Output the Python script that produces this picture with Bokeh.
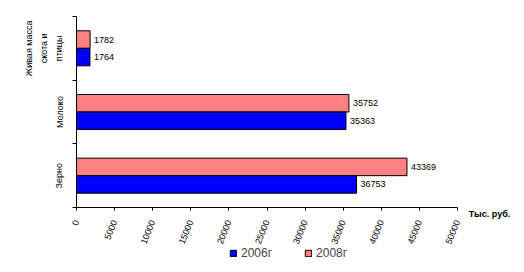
import numpy as np
from bokeh.plotting import figure
from bokeh.layouts import column
from bokeh.models import Range1d, FixedTicker, Legend, LegendItem
from bokeh.core.properties import value
from bokeh.embed import file_html
from bokeh.resources import INLINE

# ---- data ----
categories = ["Зерно", "Молоко", "Живая масса\nскота и\nптицы"]
values_2006 = [36753, 35363, 1764]
values_2008 = [43369, 35752, 1782]
series_names = ["2006г", "2008г"]
x_ticks = list(range(0, 50001, 5000))
unit_label = "Тыс. руб."

FONT = "Liberation Sans"
BLUE = "#0000FF"
PINK = "#FF8080"

X_MAX = 50000
X_VIEW = X_MAX * 413 / 381  # frame reaches past the axis end so the unit label can sit there

p = figure(width=524, height=246, x_range=Range1d(0, X_VIEW), y_range=Range1d(0, 3),
           output_backend="svg", toolbar_location=None,
           min_border_left=76, min_border_right=35, min_border_top=16, min_border_bottom=39)
p.outline_line_color = None
p.xgrid.visible = False
p.ygrid.visible = False
p.background_fill_color = "white"
p.border_fill_color = "white"

pos = np.arange(len(categories)) + 0.5
bh = 0.275
r08 = p.hbar(y=pos + bh / 2, left=0, right=values_2008, height=bh,
             fill_color=PINK, line_color="black", line_width=1)
r06 = p.hbar(y=pos - bh / 2, left=0, right=values_2006, height=bh,
             fill_color=BLUE, line_color="black", line_width=1)

p.text(x=values_2008, y=pos + bh / 2, text=[str(v) for v in values_2008], x_offset=4,
       text_baseline="middle", text_font_size="9px", text_font=value(FONT), text_color="black")
p.text(x=values_2006, y=pos - bh / 2, text=[str(v) for v in values_2006], x_offset=4,
       text_baseline="middle", text_font_size="9px", text_font=value(FONT), text_color="black")

# x axis
xa = p.xaxis[0]
xa.bounds = (0, X_MAX)
xa.ticker = FixedTicker(ticks=x_ticks)
xa.major_label_orientation = 1.19
xa.major_label_standoff = 10
xa.major_label_text_font_size = "9px"
xa.major_label_text_font = FONT
xa.major_label_text_color = "black"
xa.major_tick_in = 0
xa.major_tick_out = 3
xa.minor_tick_line_color = None
xa.axis_line_color = "black"
xa.major_tick_line_color = "black"
xa.axis_label = unit_label
xa.axis_label_align = "end"
xa.axis_label_standoff = -40
xa.axis_label_text_font_size = "9px"
xa.axis_label_text_font = FONT
xa.axis_label_text_font_style = "bold"
xa.axis_label_text_color = "black"

# y axis: category names at centres, ticks at boundaries
ya = p.yaxis[0]
ya.ticker = FixedTicker(ticks=[float(v) for v in pos], minor_ticks=[0, 1, 2, 3])
ya.major_label_overrides = {float(pos[i]): categories[i] for i in range(len(categories))}
ya.major_label_orientation = "vertical"
ya.major_label_standoff = 8
ya.major_label_text_font_size = "9px"
ya.major_label_text_font = FONT
ya.major_label_text_color = "black"
ya.major_label_text_line_height = 1.5
ya.major_tick_line_color = None
ya.major_tick_in = 0
ya.major_tick_out = 4
ya.minor_tick_in = 0
ya.minor_tick_out = 4
ya.minor_tick_line_color = "black"
ya.axis_line_color = "black"

# legend strip below the chart (its frame is aligned with the chart's frame)
q = figure(width=524, height=26, x_range=Range1d(0, 1), y_range=Range1d(0, 1),
           output_backend="svg", toolbar_location=None,
           min_border_left=0, min_border_right=0, min_border_top=0, min_border_bottom=0)
q.axis.visible = False
q.grid.visible = False
q.outline_line_color = None
q.background_fill_color = "white"
q.border_fill_color = "white"
# legend swatches (kept outside the visible range)
l06 = q.hbar(y=[-10], left=[0], right=[1], height=0.5, fill_color=BLUE, line_color="black")
l08 = q.hbar(y=[-10], left=[0], right=[1], height=0.5, fill_color=PINK, line_color="black")
legend = Legend(items=[LegendItem(label=series_names[0], renderers=[l06]),
                       LegendItem(label=series_names[1], renderers=[l08])],
                orientation="horizontal", location=(153, 12),
                glyph_width=8, glyph_height=8, label_standoff=4, spacing=32,
                padding=0, margin=0, border_line_color=None, background_fill_alpha=0,
                label_text_font_size="12px", label_text_font=FONT, label_height=12)
q.add_layout(legend, "center")

layout = column(p, q, spacing=0)
open("out.html", "w").write(file_html(layout, INLINE))
